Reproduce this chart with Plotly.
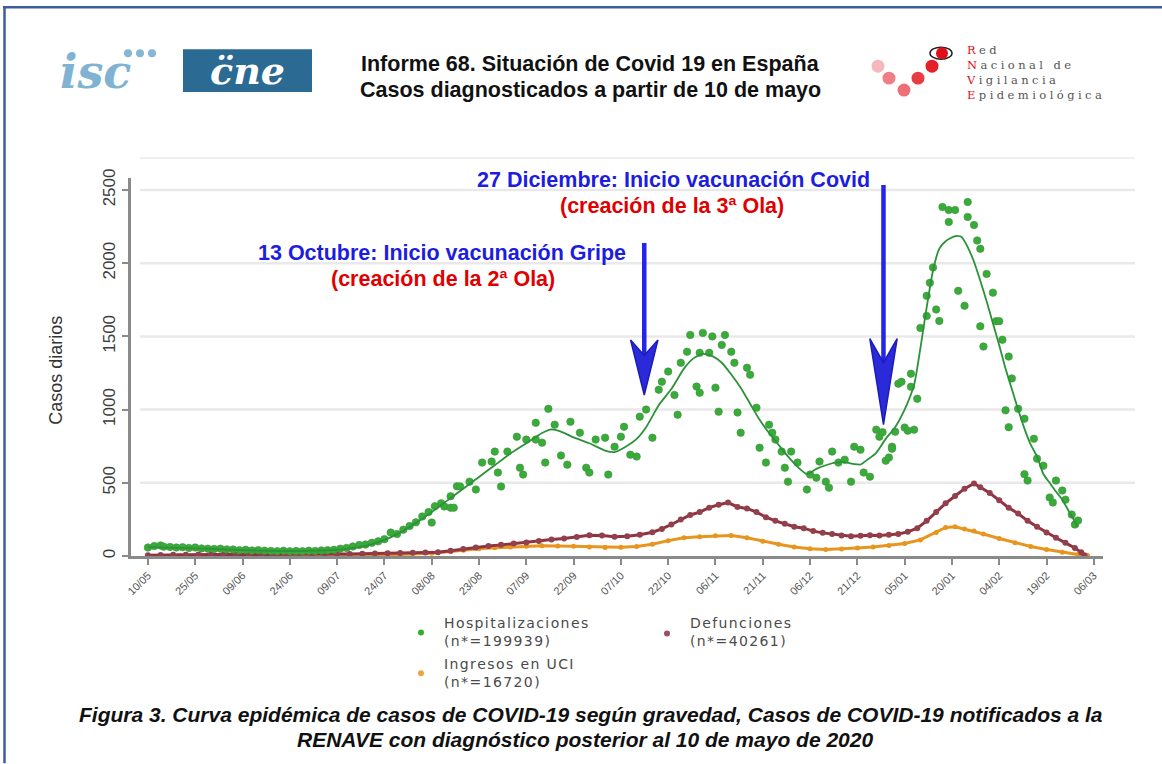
import pandas as pd
import plotly.graph_objects as go

START = "2020-05-10"

# ---------------- data (day offset from 10/05/2020, value) ----------------
hosp_day = [0, 2, 4, 5, 7, 9, 11, 13, 15, 17, 19, 21, 23, 25, 27, 29, 31, 33, 35, 37, 39, 41, 43, 45, 47, 49,
            51, 53, 55, 57, 59, 61, 63, 65, 67, 69, 71, 73, 75, 77, 79, 81, 83, 85, 87, 89, 90, 91, 93, 94,
            96, 96, 97, 98, 99, 102, 104, 106, 109, 110, 111, 112, 114, 117, 118, 119, 120, 123, 123, 125,
            126, 127, 129, 131, 133, 134, 137, 139, 140, 142, 145, 146, 148, 150, 151, 153, 155, 156, 158,
            160, 162, 163, 165, 167, 168, 169, 171, 172, 174, 175, 175, 176, 178, 179, 180, 181, 182, 183,
            185, 186, 187, 188, 190, 191, 193, 194, 196, 197, 198, 199, 201, 202, 203, 204, 206, 209, 210,
            212, 213, 215, 216, 217, 219, 221, 223, 224, 226, 227, 229, 231, 232, 233, 234, 235, 236, 236,
            237, 238, 239, 240, 241, 242, 242, 243, 244, 245, 247, 247, 248, 249, 250, 251, 252, 254, 254,
            256, 257, 259, 260, 260, 262, 263, 264, 264, 265, 266, 268, 269, 270, 271, 272, 273, 273, 274,
            276, 278, 278, 279, 281, 282, 284, 286, 287, 288, 290, 291, 293, 294, 295]
hosp_val = [58, 68, 72, 64, 62, 58, 60, 55, 58, 52, 50, 48, 50, 45, 44, 40, 42, 38, 40, 36, 35, 33, 36, 32, 34, 33,
            36, 35, 38, 40, 42, 50, 55, 65, 75, 78, 90, 100, 115, 160, 150, 180, 205, 230, 270, 300, 228, 340, 360, 338,
            408, 330, 330, 476, 475, 508, 454, 638, 645, 713, 570, 475, 713, 815, 603, 556, 795, 795, 910, 774,
            638, 1005, 897, 686, 624, 917, 842, 603, 570, 795, 808, 556, 747, 815, 883, 692, 679, 952, 1000,
            808, 1136, 1190, 1260, 1100, 965, 1320, 1395, 1510, 1157, 1388, 1115, 1524, 1388, 1500, 1150, 986, 1442, 1510,
            1395, 1320, 980, 842, 1286, 1238, 1013, 740, 638, 897, 842, 795, 713, 603, 508, 713, 638, 454, 556,
            535, 645, 508, 467, 713, 638, 658, 508, 747, 726, 570, 542, 863, 815, 846, 651, 672, 747, 733,
            849, 1177, 1190, 877, 856, 1156, 1245, 863, 1074, 1558, 1640, 1777, 1866, 1971, 1684, 1606, 2384, 2363, 2282,
            2363, 1811, 1709, 2418, 2316, 2261, 2155, 2098, 1569, 1431, 1927, 1799, 1604, 1604, 1477, 995, 880, 1362, 1213,
            1006, 938, 559, 515, 801, 665, 617, 399, 365, 515, 447, 385, 283, 215, 242]

trend_day = [0, 10, 20, 30, 40, 50, 60, 65, 70, 75, 80, 85, 90, 95, 100, 105, 110, 115, 120, 125, 128, 131, 135,
             140, 145, 148, 151, 155, 158, 162, 166, 170, 173, 176, 179, 182, 185, 188, 191, 194, 197, 200, 203,
             206, 209, 212, 215, 218, 221, 224, 226, 228, 231, 234, 237, 240, 243, 245, 247, 249, 251, 253, 256,
             258, 260, 262, 264, 266, 268, 270, 272, 274, 276, 278, 280, 282, 284, 286, 288, 290, 292, 294, 295]
trend_val = [60, 55, 48, 40, 35, 35, 42, 55, 75, 110, 160, 225, 300, 380, 460, 540, 620, 700, 770, 840, 865, 850, 810,
             770, 720, 710, 740, 800, 880, 1030, 1140, 1280, 1350, 1380, 1365, 1320, 1240, 1150, 1040, 930, 840, 760, 680,
             610, 560, 595, 620, 638, 640, 628, 625, 655, 705, 800, 880, 1000, 1170, 1420, 1700, 1950, 2100, 2150, 2185,
             2180, 2110, 2010, 1880, 1740, 1590, 1440, 1280, 1140, 1000, 870, 760, 680, 560, 500, 440, 385, 310, 235, 200]

def_day = [0, 4, 8, 12, 16, 20, 24, 28, 32, 36, 40, 44, 48, 52, 56, 60, 64, 68, 72, 76, 80, 84, 88, 92, 96, 100,
           104, 108, 112, 116, 120, 124, 128, 132, 136, 140, 144, 148, 152, 156, 160, 163, 166, 169, 172, 175,
           178, 181, 184, 187, 190, 193, 196, 199, 202, 205, 208, 211, 214, 217, 220, 223, 226, 229, 232, 235,
           238, 241, 244, 247, 250, 253, 256, 259, 262, 264, 267, 270, 273, 276, 279, 282, 285, 288, 291, 294,
           296, 297]
def_val = [5, 7, 8, 9, 10, 10, 11, 10, 11, 10, 11, 12, 11, 12, 13, 13, 14, 15, 17, 19, 21, 22, 24, 26, 36, 48,
           58, 68, 76, 86, 92, 102, 112, 120, 130, 142, 140, 132, 135, 145, 162, 185, 215, 250, 280, 300,
           330, 350, 365, 335, 325, 300, 265, 240, 220, 200, 190, 170, 158, 150, 140, 135, 138, 142, 140, 145,
           150, 165, 190, 240, 300, 360, 410, 460, 495, 470, 430, 380, 330, 290, 240, 200, 160, 125, 90, 55,
           25, 5]

uci_day = [0, 10, 20, 30, 40, 50, 60, 70, 80, 90, 96, 100, 105, 110, 115, 120, 125, 130, 135, 140, 145, 150, 155,
           160, 165, 170, 175, 180, 185, 190, 195, 200, 205, 210, 215, 220, 225, 230, 235, 240, 245, 250, 253,
           256, 259, 262, 265, 270, 275, 280, 285, 290, 295, 298]
uci_val = [3, 3, 3, 3, 3, 3, 4, 6, 10, 18, 30, 40, 50, 56, 62, 66, 70, 68, 66, 62, 58, 60, 65,
           80, 105, 125, 132, 138, 140, 125, 100, 80, 62, 50, 45, 48, 55, 62, 72, 85, 110, 160, 195,
           200, 185, 170, 150, 120, 90, 65, 45, 25, 10, 3]

tick_dates = ["2020-05-10", "2020-05-25", "2020-06-09", "2020-06-24", "2020-07-09", "2020-07-24", "2020-08-08",
              "2020-08-23", "2020-09-07", "2020-09-22", "2020-10-07", "2020-10-22", "2020-11-06", "2020-11-21",
              "2020-12-06", "2020-12-21", "2021-01-05", "2021-01-20", "2021-02-04", "2021-02-19", "2021-03-06"]
tick_labels = ["10/05", "25/05", "09/06", "24/06", "09/07", "24/07", "08/08", "23/08", "07/09", "22/09", "07/10",
               "22/10", "06/11", "21/11", "06/12", "21/12", "05/01", "20/01", "04/02", "19/02", "06/03"]
y_ticks = [0, 500, 1000, 1500, 2000, 2500]

arrow_dates = ["2020-10-14 10:00", "2020-12-29 07:00"]
arrow_tops = [2138, 2534]
arrow_heads = [1475, 1485]
arrow_tips = [1100, 897]

series_names = ["Hospitalizaciones", "Defunciones", "Ingresos en UCI"]
series_n = ["(n*=199939)", "(n*=40261)", "(n*=16720)"]


def to_dates(days):
    return pd.to_datetime(START) + pd.to_timedelta(days, unit="D")


# ---------------- layout geometry (pixels) ----------------
W, H = 1162, 764
L, R, T, B = 131, 1103, 178, 556.5
PW, PH = R - L, B - T


def px(x):
    return (x - L) / PW


def py(y):
    return (B - y) / PH


def spaced(s, sp="\u200a"):
    return sp.join(list(s))


GREEN = "#36ad36"
GREEN_LINE = "#2a9238"
MAROON = "#8e3440"
ORANGE = "#e8951f"
BLUE = "#1d1de0"
RED = "#e00000"

fig = go.Figure()

fig.add_trace(go.Scatter(x=to_dates(uci_day), y=uci_val, mode="lines+markers",
                         line=dict(color=ORANGE, width=3), marker=dict(color=ORANGE, size=5),
                         name=series_names[2], showlegend=False))
fig.add_trace(go.Scatter(x=to_dates(def_day), y=def_val, mode="lines+markers",
                         line=dict(color=MAROON, width=3), marker=dict(color="#94404c", size=6),
                         name=series_names[1], showlegend=False))
fig.add_trace(go.Scatter(x=to_dates(hosp_day), y=hosp_val, mode="markers",
                         marker=dict(color=GREEN, size=7.5, line=dict(width=0.6, color="#4c8c4c")),
                         name=series_names[0], showlegend=False))
fig.add_trace(go.Scatter(x=to_dates(trend_day), y=trend_val, mode="lines",
                         line=dict(color=GREEN_LINE, width=1.8, shape="spline", smoothing=0.6),
                         showlegend=False, hoverinfo="skip"))

shapes = []
# page frame
shapes.append(dict(type="line", xref="paper", yref="paper", x0=px(3), x1=px(1162), y0=py(7), y1=py(7),
                   line=dict(color="#3d5c9c", width=2.5)))
shapes.append(dict(type="line", xref="paper", yref="paper", x0=px(4.5), x1=px(4.5), y0=py(7), y1=py(764),
                   line=dict(color="#3d5c9c", width=2.5)))
# faint top line of graph region
shapes.append(dict(type="line", xref="paper", yref="paper", x0=px(140), x1=px(1135), y0=py(158), y1=py(158),
                   line=dict(color="#f0f0f0", width=2), layer="below"))
# horizontal gridlines
for v in y_ticks[1:]:
    shapes.append(dict(type="line", xref="paper", yref="y", x0=px(140), x1=px(1135), y0=v, y1=v,
                       line=dict(color="#e9e9e9", width=2.5), layer="below"))


# arrows
def dstr(ts):
    return ts.strftime("%Y-%m-%d_%H:%M:%S")


for ad, top, head, tip in zip(arrow_dates, arrow_tops, arrow_heads, arrow_tips):
    c = pd.Timestamp(ad)
    hw = pd.Timedelta(hours=104)
    notch = head - (head - tip) * 0.28
    shapes.append(dict(type="line", xref="x", yref="y", x0=c, x1=c, y0=top, y1=notch,
                       line=dict(color="#2525e8", width=4.5)))
    path = (f"M{dstr(c)},{tip} L{dstr(c - hw)},{head} L{dstr(c)},{notch} "
            f"L{dstr(c + hw)},{head} Z")
    shapes.append(dict(type="path", xref="x", yref="y", path=path,
                       fillcolor="#2a2ad8", line=dict(color="#1c1cb8", width=1.5)))

# logos
shapes.append(dict(type="rect", xref="paper", yref="paper", x0=px(183), x1=px(312), y0=py(49), y1=py(92),
                   fillcolor="#2b6a93", line=dict(width=0)))
renave_dots = [(878, 66, "#f4b9bd", 6.5), (932, 66, "#e3202a", 6.5), (889, 78, "#ee7f84", 6.5),
               (918, 78, "#e83c42", 6.5), (904, 90, "#ec7076", 6.5)]
for (cx, cy, col, r) in renave_dots:
    shapes.append(dict(type="circle", xref="paper", yref="paper", x0=px(cx - r), x1=px(cx + r),
                       y0=py(cy - r), y1=py(cy + r), fillcolor=col, line=dict(width=0)))
shapes.append(dict(type="circle", xref="paper", yref="paper", x0=px(930), x1=px(952), y0=py(47), y1=py(59),
                   fillcolor="white", line=dict(color="#222", width=1.5)))
shapes.append(dict(type="circle", xref="paper", yref="paper", x0=px(936), x1=px(948), y0=py(47), y1=py(59),
                   fillcolor="#e0101a", line=dict(width=0)))
for (cx, cy) in [(128, 53), (140, 53), (152, 53)]:
    shapes.append(dict(type="circle", xref="paper", yref="paper", x0=px(cx - 4), x1=px(cx + 4),
                       y0=py(cy - 4), y1=py(cy + 4), fillcolor="#86b6d4", line=dict(width=0)))

# legend dots
leg_dots = [(421, 633, "#2fae2f"), (667, 634, "#9a5060"), (421, 674, "#eaa443")]
for (cx, cy, col) in leg_dots:
    shapes.append(dict(type="circle", xref="paper", yref="paper", x0=px(cx - 3), x1=px(cx + 3),
                       y0=py(cy - 3), y1=py(cy + 3), fillcolor=col, line=dict(width=0)))

ann = []


def add_text(text, x, y, size, color, xanchor="center", family="Liberation Sans, Arial", angle=0, align="center"):
    ann.append(dict(text=text, x=px(x), y=py(y), xref="paper", yref="paper", showarrow=False,
                    xanchor=xanchor, yanchor="middle", textangle=angle, align=align,
                    font=dict(size=size, color=color, family=family)))


add_text("<b>Informe 68. Situación de Covid 19 en España</b>", 590, 64, 21.5, "#111")
add_text("<b>Casos diagnosticados a partir de 10 de mayo</b>", 590, 90, 21.5, "#111")
add_text("<b><i>isc</i></b>", 95, 72, 46, "#80b2d2", family="DejaVu Serif")
add_text("<b><i>c̈ne</i></b>", 247, 70, 38, "white", family="DejaVu Serif")
renave_lines = [("R", "ed"), ("N", "acional de"), ("V", "igilancia"), ("E", "pidemiológica")]
SP = "\u2009\u200a"
renave_txt = "<br>".join(f"<span style='color:#d4101a'>{f}</span>{SP}{spaced(r, SP)}"
                         for f, r in renave_lines)
add_text(renave_txt, 964, 72, 11.5, "#555", xanchor="left", family="DejaVu Serif", align="left")

add_text("<b>27 Diciembre: Inicio vacunación Covid</b>", 872, 180, 21.5, BLUE, xanchor="right")
add_text("<b>(creación de la 3ª Ola)</b>", 672, 206, 21.5, RED)
add_text("<b>13 Octubre: Inicio vacunación Gripe</b>", 628, 253, 21.5, BLUE, xanchor="right")
add_text("<b>(creación de la 2ª Ola)</b>", 443, 279, 21.5, RED)

add_text("Casos diarios", 56, 371, 18, "#333", angle=-90)

leg_pos = [(442, 633), (688, 633), (442, 674)]
for name, n, (lx, ly) in zip(series_names, series_n, leg_pos):
    add_text(spaced(name) + "<br>" + spaced(n), lx, ly, 14, "#4a4a4a", xanchor="left",
             family="DejaVu Sans", align="left")

add_text("<b><i>Figura 3. Curva epidémica de casos de COVID-19 según gravedad, Casos de COVID-19 notificados a la</i></b>",
         591, 715, 21, "#111")
add_text("<b><i>RENAVE con diagnóstico posterior al 10 de mayo de 2020</i></b>", 585, 740, 21, "#111")

fig.update_layout(
    width=W, height=H, autosize=False,
    margin=dict(l=L, r=W - R, t=T, b=H - B, pad=0),
    paper_bgcolor="white", plot_bgcolor="white",
    shapes=shapes, annotations=ann, showlegend=False,
    xaxis=dict(type="date", range=["2020-05-04 15:00", "2021-03-08 22:00"],
               tickvals=tick_dates, ticktext=tick_labels, tickangle=-45,
               ticks="outside", ticklen=6, tickwidth=2, tickcolor="#8a8a8a",
               tickfont=dict(size=11, color="#555", family="Liberation Sans, Arial"),
               showline=True, linecolor="#8a8a8a", linewidth=2.5, showgrid=False, zeroline=False),
    yaxis=dict(range=[0, 2582], tickvals=y_ticks, tickangle=-90,
               ticks="outside", ticklen=6, tickwidth=2, tickcolor="#8a8a8a",
               tickfont=dict(size=17, color="#3c3c3c", family="Liberation Sans, Arial"),
               showline=True, linecolor="#8a8a8a", linewidth=2.5, showgrid=False, zeroline=False),
)

fig.write_html("out.html", config={"displayModeBar": False},
               post_script="document.body.style.margin='0px';")
